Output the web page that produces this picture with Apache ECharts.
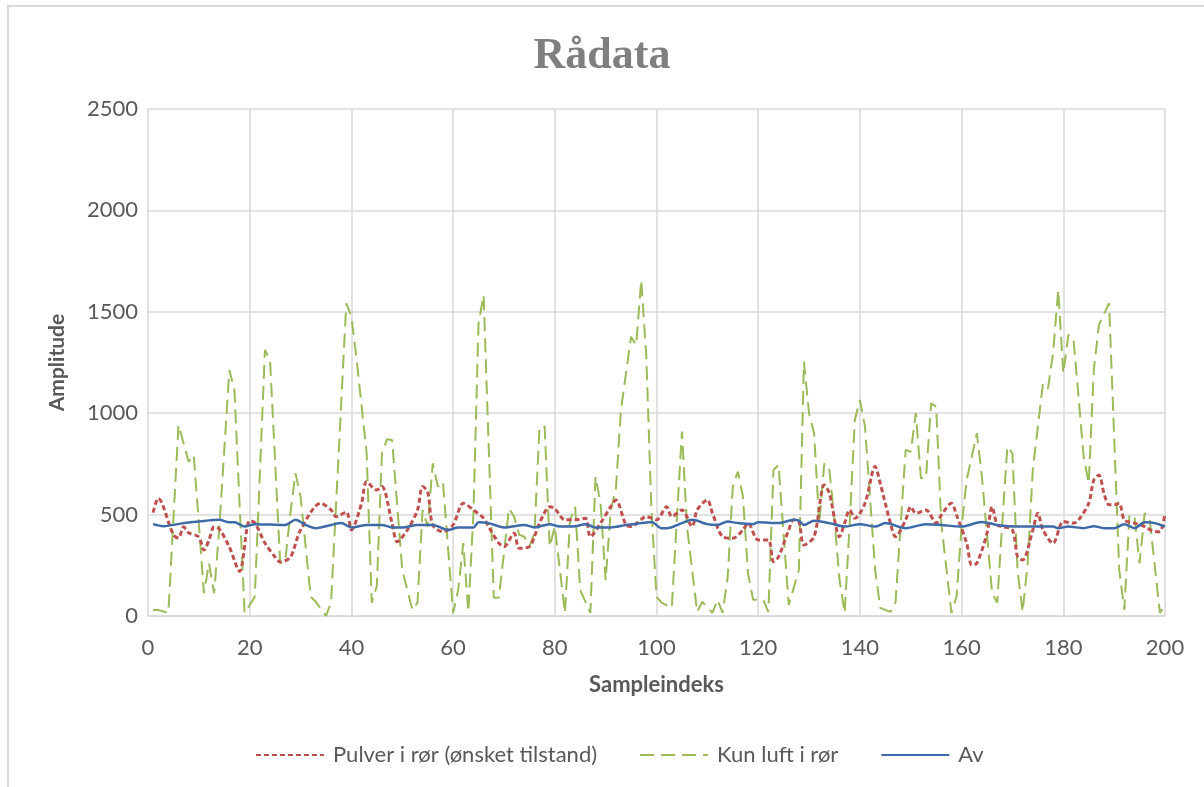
<!DOCTYPE html>
<html lang="no">
<head>
    <meta charset="UTF-8">
    <title>Rådata</title>
    <script src="https://cdn.jsdelivr.net/npm/echarts@6/dist/echarts.min.js"></script>
    <style>
        html, body { margin: 0; padding: 0; background: #fff; overflow: hidden; }
        #frame { position: absolute; left: 7px; top: 5px; width: 1230px; height: 820px; border: 2px solid #d9d9d9; box-sizing: border-box; }
        #main { position: absolute; left: 0; top: 0; width: 1204px; height: 787px; }
    </style>
</head>
<body>
<div id="frame"></div>
<div id="main"></div>
<script type="text/javascript">
    // avleste punkter (sampleindeks, amplitude)
    var pulverX = [1,2,5,6,7,8,10,11,12,13,14,16,18,20,21,23,25,26,28,30,34,36,37,39,40,42,43,45,46,48,49,51,53,54,55,56,58,60,62,64,66,67,69,70,72,73,75,76,77,79,80,82,84,86,87,89,91,92,94,95,98,100,102,103,105,107,108,110,111,113,115,117,118,120,122,123,124,126,127,128,129,131,133,134,136,137,138,139,141,143,144,146,147,149,150,151,153,155,156,158,159,161,162,163,165,166,167,168,170,171,172,174,175,176,178,180,182,183,185,186,187,188,189,190,191,192,194,196,198,199,200];
    var pulverY = [510,580,400,385,440,410,390,325,375,440,430,340,220,470,460,360,290,266,290,424,556,523,490,513,424,556,662,621,638,458,366,424,523,638,613,449,416,449,556,523,482,440,359,342,408,334,342,392,458,539,530,474,474,482,391,458,539,572,449,441,490,474,539,490,523,441,523,572,507,391,383,424,458,375,375,268,292,424,474,466,350,391,646,605,391,458,523,482,556,737,654,458,391,474,539,507,523,458,498,556,498,359,252,260,408,539,449,441,424,292,276,424,507,424,359,466,458,474,556,670,695,605,548,548,556,474,458,441,416,416,507];

    var luftX = [1,2,4,6,8,9,11,12,13,14,16,17,18,19,20,21,23,24,26,27,28,29,30,32,33,35,36,39,40,41,43,44,45,46,47,48,50,52,53,54,55,56,57,58,60,61,62,63,64,65,66,68,69,71,72,73,74,75,76,77,78,79,80,82,83,84,85,87,88,89,90,91,92,93,95,96,97,98,99,100,101,103,105,106,107,108,109,111,112,113,114,115,116,117,118,119,121,122,123,124,126,128,129,130,131,132,133,134,135,136,137,138,139,140,141,143,144,146,147,149,150,151,152,153,154,155,156,158,159,160,161,163,164,166,167,168,169,170,171,172,173,174,176,177,178,179,180,181,182,184,185,186,187,189,190,191,192,193,194,195,196,197,199,200];
    var luftY = [30,30,15,942,761,794,112,260,112,424,1213,1114,556,15,54,95,1312,1262,260,276,507,704,589,95,70,0,66,1542,1476,1271,802,66,148,802,872,868,227,30,66,523,440,753,638,662,15,128,359,20,507,1443,1582,90,90,531,490,400,391,342,408,934,934,342,441,15,474,539,128,15,687,556,177,523,621,1016,1377,1336,1657,1279,523,95,66,40,909,441,227,20,70,15,80,15,190,638,712,589,210,80,80,20,720,745,54,227,1254,1000,900,458,753,720,474,177,15,458,966,1065,934,227,40,20,66,819,810,1000,680,680,1049,1032,458,15,95,441,671,901,687,112,66,458,835,802,227,20,260,720,1147,1122,1300,1608,1196,1386,1370,786,654,1213,1435,1542,884,227,30,498,490,260,507,474,15,54];

    var avX = [1,3,7,10,14,16,17,19,21,24,27,29,31,33,36,38,40,43,46,48,50,53,56,59,61,64,65,67,70,74,76,79,81,84,86,88,91,94,97,99,101,102,105,107,110,112,114,116,119,120,124,127,128,129,131,134,137,140,143,145,149,153,156,160,164,167,171,174,178,179,181,184,186,188,190,192,194,196,198,200];
    var avY = [453,443,458,466,474,462,462,441,453,451,449,474,449,433,449,458,437,449,449,437,437,449,449,424,437,437,462,458,437,449,437,453,441,443,453,437,437,449,458,464,433,433,458,474,453,449,466,458,453,462,458,474,470,449,470,458,441,453,441,458,433,453,449,441,464,449,441,441,441,433,441,433,443,433,433,453,433,462,458,441];

    var yTicks = [0, 500, 1000, 1500, 2000, 2500];

    function pairs(xs, ys) {
        var out = [];
        for (var i = 0; i < xs.length; i++) {
            out.push([xs[i], ys[i]]);
        }
        return out;
    }

    var myChart = echarts.init(document.getElementById('main'));
    var labelFont = 'Lato, "Liberation Sans", sans-serif';

    myChart.setOption({
        backgroundColor: 'transparent',
        animation: false,
        title: {
            text: 'Rådata',
            left: 'center',
            top: 30,
            textStyle: {
                fontFamily: '"Liberation Serif", serif',
                fontWeight: 'bold',
                fontSize: 44,
                color: '#7f7f7f'
            }
        },
        legend: {
            bottom: 16,
            left: 250,
            itemWidth: 68,
            itemHeight: 4,
            itemGap: 42,
            itemStyle: { opacity: 0 },
            textStyle: {
                fontFamily: labelFont,
                fontSize: 22,
                color: '#595959',
                padding: [0, 0, 0, 4]
            },
            data: ['Pulver i rør (ønsket tilstand)', 'Kun luft i rør', 'Av']
        },
        grid: {
            left: 148,
            right: 39,
            top: 109,
            bottom: 171
        },
        xAxis: {
            type: 'value',
            min: 0,
            max: 200,
            interval: 20,
            name: 'Sampleindeks',
            nameLocation: 'middle',
            nameGap: 58,
            nameTextStyle: {
                fontFamily: labelFont,
                fontWeight: 'bold',
                fontSize: 22,
                color: '#595959'
            },
            axisLine: { show: true, lineStyle: { color: '#d9d9d9', width: 1.5 } },
            axisTick: { show: false },
            axisLabel: {
                margin: 21,
                fontFamily: labelFont,
                fontSize: 22,
                color: '#595959'
            },
            splitLine: { show: true, lineStyle: { color: '#d9d9d9', width: 1.5 } }
        },
        yAxis: {
            type: 'value',
            min: yTicks[0],
            max: yTicks[yTicks.length - 1],
            interval: 500,
            name: 'Amplitude',
            nameLocation: 'middle',
            nameGap: 80,
            nameTextStyle: {
                fontFamily: labelFont,
                fontWeight: 'bold',
                fontSize: 21,
                color: '#595959'
            },
            axisLine: { show: false },
            axisTick: { show: false },
            axisLabel: {
                margin: 10,
                fontFamily: labelFont,
                fontSize: 22,
                color: '#595959',
                formatter: function (v) { return String(v); }
            },
            splitLine: { show: true, lineStyle: { color: '#d9d9d9', width: 1.5 } }
        },
        series: [
            {
                name: 'Pulver i rør (ønsket tilstand)',
                type: 'line',
                data: pairs(pulverX, pulverY),
                symbol: 'none',
                smooth: 0.3,
                itemStyle: { color: '#c0504d' },
                lineStyle: { color: '#c0504d', width: 3, type: [5, 3] },
                z: 3
            },
            {
                name: 'Kun luft i rør',
                type: 'line',
                data: pairs(luftX, luftY),
                symbol: 'none',
                itemStyle: { color: '#9bbb59' },
                lineStyle: { color: '#9bbb59', width: 2, type: [14, 7] },
                z: 2
            },
            {
                name: 'Av',
                type: 'line',
                data: pairs(avX, avY),
                symbol: 'none',
                smooth: 0.3,
                itemStyle: { color: '#3e6aa8' },
                lineStyle: { color: '#3e6aa8', width: 2.5 },
                z: 4
            }
        ]
    });
</script>
</body>
</html>
